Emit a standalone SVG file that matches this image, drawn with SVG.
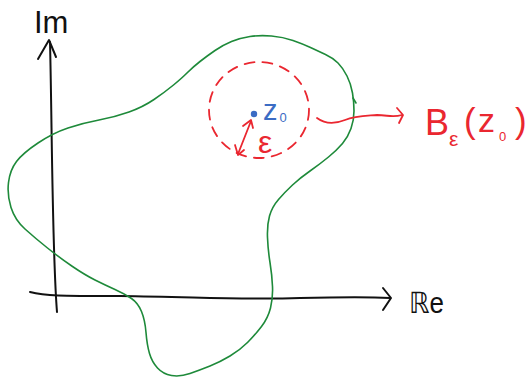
<svg xmlns="http://www.w3.org/2000/svg" width="531" height="380" viewBox="0 0 531 380">
<style>
.ax{fill:none;stroke:#111;stroke-width:2;stroke-linecap:round;stroke-linejoin:round}
.gr{fill:none;stroke:#1e8a3a;stroke-width:1.6;stroke-linecap:round;stroke-linejoin:round}
.rd{fill:none;stroke:#ea2730;stroke-width:1.8;stroke-linecap:round;stroke-linejoin:round}
.tb{font-family:"Liberation Sans","DejaVu Sans",sans-serif;fill:#111}
.tr{font-family:"Liberation Sans","DejaVu Sans",sans-serif;fill:#ea2730}
.tu{font-family:"Liberation Sans","DejaVu Sans",sans-serif;fill:#3b6cc4}
</style>
<rect width="531" height="380" fill="#fff"/>
<g id="axes">
<path class="ax" d="M50 42 C52 120 52 250 57 312"/>
<path class="ax" d="M38 59 L49 40 L56 57"/>
<path class="ax" d="M30 292 C45 296 60 296 120 296 C200 297 240 300 300 298 C350 297 370 297 390 298"/>
<path class="ax" d="M383 288 L391 298 L383 310"/>
<text class="tb" x="34" y="33" font-size="31">Im</text>
<text class="tb" x="409" y="313" font-size="29" font-family="DejaVu Sans" textLength="35" lengthAdjust="spacingAndGlyphs">ℝe</text>
</g>
<g id="region">
<path class="gr" d="M250 36.5 Q260 35 271.5 36 Q283 37 293 40.5 Q303 44 310.5 47.5 Q318 51 325.5 54.5 Q333 58 338 63 Q343 68 347 76 Q351 84 352.5 93 Q354 102 354 111 Q354 120 351 128.5 Q348 137 342.5 143.5 Q337 150 328.5 157 Q320 164 310 171 Q300 178 292.5 185 Q285 192 278.5 199.5 Q272 207 269.5 216 Q267 225 267.5 237.5 Q268 250 270 262.5 Q272 275 272.5 286.5 Q273 298 270.5 308 Q268 318 261.5 326.5 Q255 335 247.5 342.5 Q240 350 230 356 Q220 362 210 366 Q200 370 190 373.5 Q180 377 171.5 375.5 Q163 374 157.5 368 Q152 362 149.5 353.5 Q147 345 146 332.5 Q145 320 141.5 311.5 Q138 303 131.5 298.5 Q125 294 115 289.5 Q105 285 95 280 Q85 275 72.5 266.5 Q60 258 47.5 248 Q35 238 25 229 Q15 220 11 207.5 Q7 195 8.5 182.5 Q10 170 16.5 161.5 Q23 153 38 143 Q53 133 68 128 Q83 123 99 120 Q115 117 129 112 Q143 107 154 99.5 Q165 92 173.5 85 Q182 78 187.5 72.5 Q193 67 200 61.5 Q207 56 215 50.5 Q223 45 231.5 41.5 Q240 38 250 36.5 Z"/>
<path class="gr" d="M353 98 L356 103"/>
</g>
<g id="ball">
<ellipse class="rd" cx="259" cy="110" rx="50" ry="48" stroke-dasharray="10 8"/>
<circle cx="254" cy="114" r="3.2" fill="#3b6cc4"/>
<text class="tu" x="263" y="120" font-size="29">z<tspan font-size="13" dx="2" dy="2">0</tspan></text>
<path class="rd" d="M238 154 L251 121"/>
<path class="rd" d="M243 126 L251 120 L253 128"/>
<path class="rd" d="M235 145 L238 155 L244 150"/>
<text class="tr" x="258" y="153" font-size="32">ε</text>
</g>
<g id="label">
<path class="rd" d="M317 118 C325 124 335 124 345 120 C355 116 365 116 377 115 C388 115 392 118 402 115"/>
<path class="rd" d="M397 108 L403 115 L399 123"/>
<text class="tr" x="425" y="135" font-size="36">B</text>
<text class="tr" x="449" y="146" font-size="21">ε</text>
<text class="tr" x="464" y="133" font-size="35">(</text>
<text class="tr" x="478" y="132" font-size="34">z</text>
<text class="tr" x="499" y="141" font-size="13">0</text>
<text class="tr" x="515" y="133" font-size="35">)</text>
</g>
</svg>
